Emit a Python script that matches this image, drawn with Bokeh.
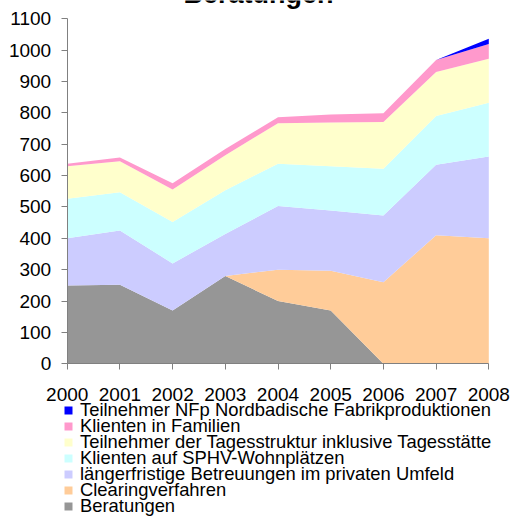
from bokeh.plotting import figure
from bokeh.models import ColumnDataSource, FixedTicker, Legend, LegendItem, Label
from bokeh.embed import file_html
from bokeh.resources import INLINE

years = [2000, 2001, 2002, 2003, 2004, 2005, 2006, 2007, 2008]
beratungen = [250, 252, 170, 280, 200, 170, 0, 0, 0]
clearing = [0, 0, 0, 0, 100, 127, 260, 410, 400]
laengerfristig = [150, 173, 150, 134, 203, 192, 213, 225, 261]
sphv = [126, 122, 132, 139, 135, 141, 149, 155, 171]
tagesstruktur = [104, 99, 104, 112, 129, 139, 149, 140, 141]
familien = [8, 12, 20, 20, 19, 26, 28, 39, 47]
nfp = [0, 0, 0, 0, 0, 0, 0, 0, 16]

series_keys = ["ber", "clr", "lang", "sphv", "tag", "fam", "nfp"]
series_labels = [
    "Beratungen",
    "Clearingverfahren",
    "längerfristige Betreuungen im privaten Umfeld",
    "Klienten auf SPHV-Wohnplätzen",
    "Teilnehmer der Tagesstruktur inklusive Tagesstätte",
    "Klienten in Familien",
    "Teilnehmer NFp Nordbadische Fabrikproduktionen",
]
colors = ["#969696", "#FFCC99", "#CCCCFF", "#CCFFFF", "#FFFFCC", "#FF99CC", "#0000FF"]
y_ticks = [0, 100, 200, 300, 400, 500, 600, 700, 800, 900, 1000, 1100]
title_text = "Beratungen"

source = ColumnDataSource(dict(year=years, ber=beratungen, clr=clearing, lang=laengerfristig,
                               sphv=sphv, tag=tagesstruktur, fam=familien, nfp=nfp))

FONT = "Liberation Sans"
W, H = 512, 520
# pixel layout of the plotting area on the canvas
X0_PX, X1_PX = 66.7, 488.3     # x of first / last year
Y0_PX, Y1_PX = 363.3, 18.3     # y of 0 / of top tick
x_first, x_last = years[0], years[-1]
y_top = y_ticks[-1]
px_per_x = (X1_PX - X0_PX) / (x_last - x_first)
px_per_y = (Y0_PX - Y1_PX) / y_top
x_range = (x_first - X0_PX / px_per_x, x_last + (W - X1_PX) / px_per_x)
y_range = (-(H - Y0_PX) / px_per_y, y_top + Y1_PX / px_per_y)

p = figure(width=W, height=H, output_backend="svg", toolbar_location=None,
           x_range=x_range, y_range=y_range,
           min_border_left=0, min_border_right=0, min_border_top=0, min_border_bottom=0)
p.outline_line_color = None
p.grid.visible = False
p.background_fill_color = "white"
p.border_fill_color = "white"

renderers = p.varea_stack(stackers=series_keys, x="year", color=colors, source=source)

for ax in (p.xaxis[0], p.yaxis[0]):
    ax.axis_line_color = "#808080"
    ax.major_tick_line_color = "#808080"
    ax.major_tick_out = 6
    ax.major_tick_in = 0
    ax.minor_tick_line_color = None
    ax.major_label_text_font = FONT
    ax.major_label_text_font_size = "19px"
    ax.major_label_text_color = "black"

p.xaxis.ticker = FixedTicker(ticks=years)
p.yaxis.ticker = FixedTicker(ticks=y_ticks)
p.xaxis.fixed_location = 0
p.yaxis.fixed_location = x_first
p.xaxis.bounds = (x_first, x_last)
p.yaxis.bounds = (0, y_top)
p.xaxis.major_label_standoff = 18
p.yaxis.major_label_standoff = 10

# legend: one entry per row, rows 16px apart (tighter than Bokeh's own row height)
ROW_H = 30          # legend row box height
ROW_STEP = 16       # distance between rows
FIRST_ROW_CENTER = 410
entries = list(zip(series_labels, renderers))[::-1]
for i, (lab, r) in enumerate(entries):
    center = FIRST_ROW_CENTER + ROW_STEP * i
    vy = H - center - ROW_H / 2
    lg = Legend(items=[LegendItem(label=lab, renderers=[r])], location=(63, vy),
                orientation="vertical",
                label_text_font=FONT, label_text_font_size="18.4px", label_text_color="black",
                label_height=ROW_H, glyph_height=10, glyph_width=10, label_standoff=7,
                spacing=0, padding=0, margin=0,
                border_line_alpha=0, background_fill_alpha=0)
    p.add_layout(lg)

p.add_layout(Label(x=2003.63, y=1180, text=title_text, text_align="center",
                   text_baseline="alphabetic", text_font=FONT, text_font_size="27px",
                   text_font_style="bold", text_color="black"))

open("out.html", "w").write(file_html(p, INLINE))
